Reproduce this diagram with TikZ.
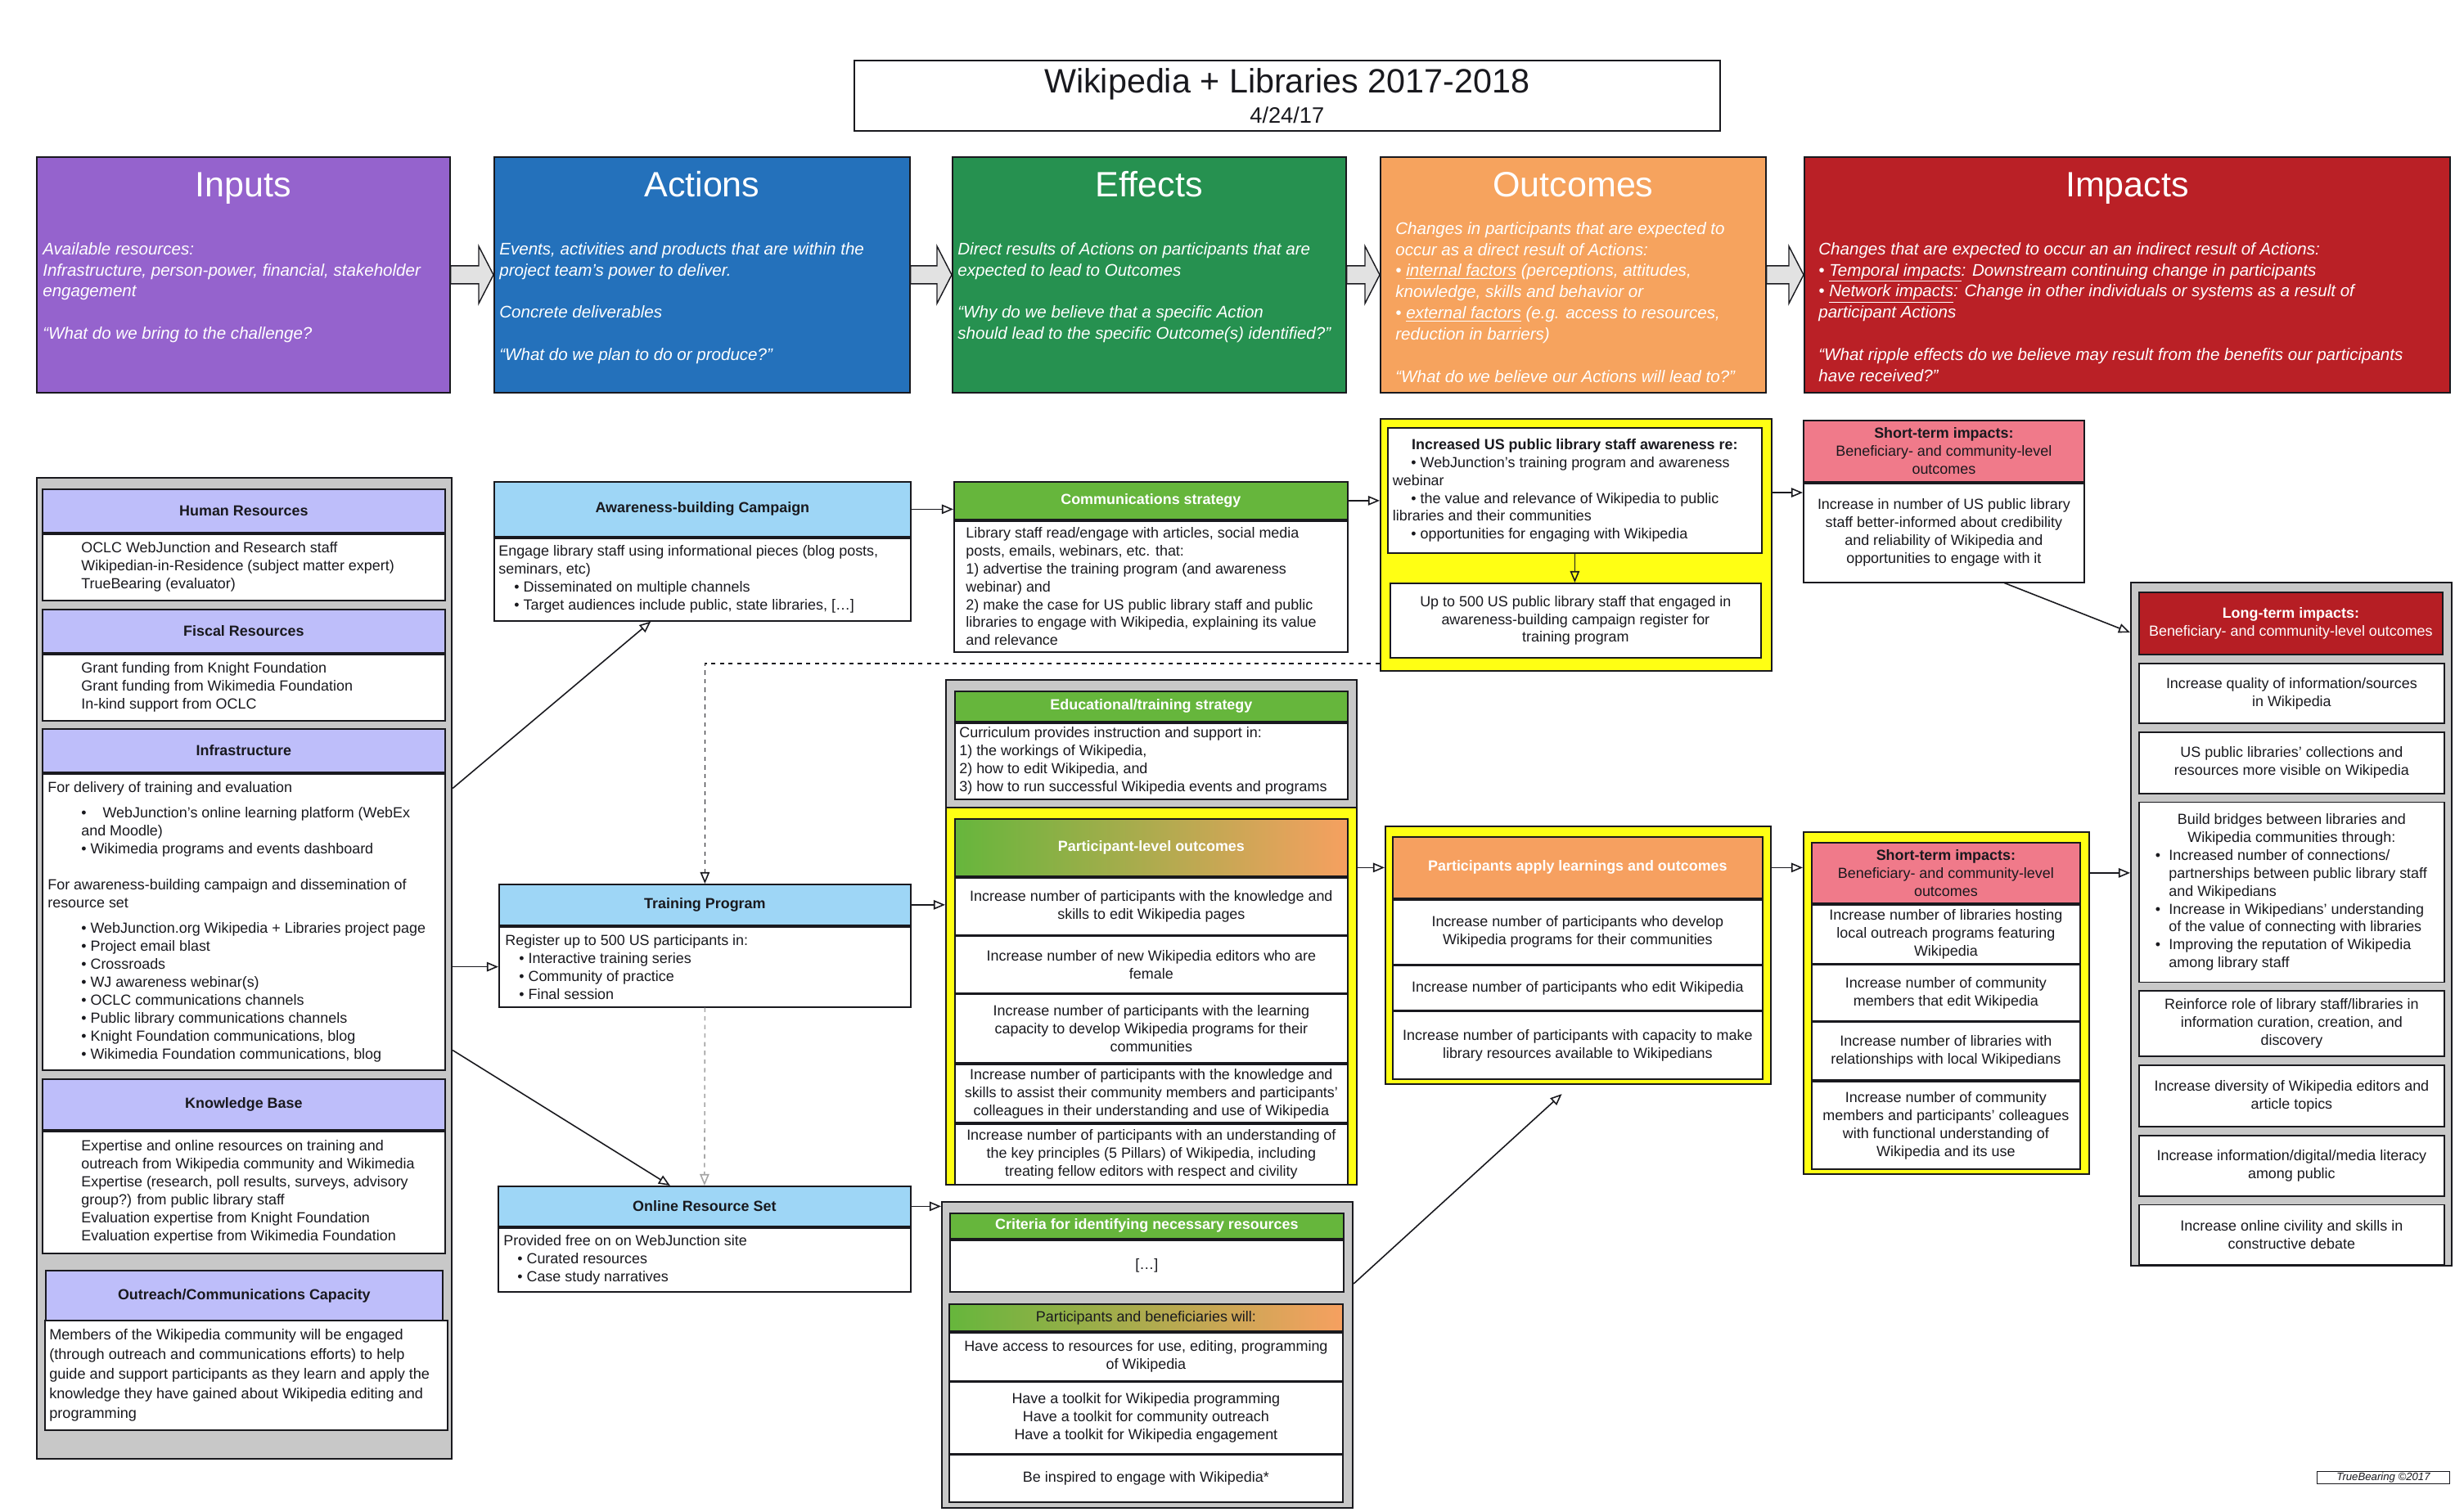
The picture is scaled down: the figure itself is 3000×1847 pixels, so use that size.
\documentclass[tikz,border=0pt]{standalone}
\usepackage{fontspec}
\setmainfont{Liberation Sans}
\usepackage{tikz}
\usetikzlibrary{arrows.meta, positioning, calc}
\definecolor{mydark}{RGB}{25,25,30}
\definecolor{mypurple}{RGB}{149,99,205}
\definecolor{myblue}{RGB}{36,113,187}
\definecolor{mygreen}{RGB}{38,145,80}
\definecolor{myorange}{RGB}{246,163,94}
\definecolor{myred}{RGB}{186,32,38}
\definecolor{mygray}{RGB}{200,200,200}
\definecolor{myyellow}{RGB}{255,255,20}
\definecolor{arrowgray}{RGB}{226,226,226}
\definecolor{hdrlav}{RGB}{190,190,250}
\definecolor{hdrblue}{RGB}{158,214,246}
\definecolor{hdrgreen}{RGB}{102,182,60}
\definecolor{hdrorange}{RGB}{246,160,96}
\definecolor{hdrpink}{RGB}{240,122,138}
\definecolor{hdrred}{RGB}{182,30,36}
\newcommand{\bodyfont}{\fontsize{10.2}{12.5}\selectfont}
\newcommand{\colfont}{\fontsize{11.7}{14.7}\selectfont\itshape}
\tikzset{
  wh/.style 2 args={minimum width=#1*0.02cm, minimum height=#2*0.02cm},
  titlebox/.style={rectangle, draw=mydark, line width=0.9pt, anchor=north west, inner sep=0pt},
  colbox/.style={rectangle, draw=mydark, line width=1pt, anchor=north west, inner sep=0pt},
  coltitle/.style={anchor=base, text=white, font=\fontsize{24.5}{28}\selectfont},
  coltext/.style={anchor=north west, align=left, inner sep=0pt, text=white, font=\colfont},
  panel/.style={rectangle, draw=mydark, fill=mygray, line width=1.2pt, anchor=north west, inner sep=0pt},
  yelpanel/.style={panel, fill=myyellow},
  hdr/.style={rectangle, draw=mydark, line width=1pt, anchor=north west, inner sep=0pt,
    align=center, font={\bodyfont\bfseries}},
  lavhdr/.style={hdr, fill=hdrlav},
  bluehdr/.style={hdr, fill=hdrblue},
  greenhdr/.style={hdr, fill=hdrgreen, text=white},
  gradhdr/.style={hdr, left color=hdrgreen, right color=hdrorange},
  orangehdr/.style={hdr, fill=hdrorange, text=white},
  pinkhdr/.style={hdr, fill=hdrpink, font=\bodyfont},
  redhdr/.style={hdr, fill=hdrred, text=white, font=\bodyfont},
  cell/.style={rectangle, draw=mydark, fill=white, line width=1pt, anchor=north west,
    inner sep=0pt, align=center},
  celltxt/.style={anchor=west, align=left, inner sep=0pt},
  arrow/.style={-{Triangle[open, length=8pt, width=6.5pt]}, line width=0.9pt, color=mydark},
  dasharrow/.style={arrow, dashed},
  grayarrow/.style={arrow, dashed, color=black!35},
  blockarrow/.style={draw=mydark, fill=arrowgray, line width=0.8pt}
}

\begin{document}
\begin{tikzpicture}[x=0.02cm, y=-0.02cm, font=\bodyfont, text=mydark]
  \fill[white] (0,0) rectangle (3000,1847);
  \useasboundingbox (0,0) rectangle (3000,1847);

  % Title
  \node[titlebox, wh={1058}{86}] (title) at (1043,73) {};
  \node[anchor=base, font=\fontsize{23.5}{28}\selectfont] (titletext) at ($(title.north)+(0,40)$) {Wikipedia + Libraries 2017-2018};
  \node[anchor=base, font=\fontsize{15.5}{18}\selectfont] (titledate) at ($(title.north)+(0,77)$) {4/24/17};

  % Header row - one coloured box per stage
  \node[colbox, fill=mypurple, wh={505}{288}] (inputs) at (44,191) {};
  \node[coltitle] (inputsttl) at ($(inputs.north)+(0,49)$) {Inputs};
  \node[coltext] (inputstxt) at ($(inputs.north west)+(8,105)$) {Available resources:\\Infrastructure, person-power, financial, stakeholder\\engagement\\[14.7pt]“What do we bring to the challenge?};

  \node[colbox, fill=myblue, wh={508}{288}] (actions) at (603,191) {};
  \node[coltitle] (actionsttl) at ($(actions.north)+(0,49)$) {Actions};
  \node[coltext] (actionstxt) at ($(actions.north west)+(7,105)$) {Events, activities and products that are within the\\project team’s power to deliver.\\[14.7pt]Concrete deliverables\\[14.7pt]“What do we plan to do or produce?”};

  \node[colbox, fill=mygreen, wh={481}{288}] (effects) at (1163,191) {};
  \node[coltitle] (effectsttl) at ($(effects.north)+(0,49)$) {Effects};
  \node[coltext] (effectstxt) at ($(effects.north west)+(7,105)$) {Direct results of Actions on participants that are\\expected to lead to Outcomes\\[14.7pt]“Why do we believe that a specific Action\\should lead to the specific Outcome(s) identified?”};

  \node[colbox, fill=myorange, wh={471}{288}] (outcomes) at (1686,191) {};
  \node[coltitle] (outcomesttl) at ($(outcomes.north)+(0,49)$) {Outcomes};
  \node[coltext] (outcomestxt) at ($(outcomes.north west)+(19,80)$) {Changes in participants that are expected to\\occur as a direct result of Actions:\\• \underline{internal factors} (perceptions, attitudes,\\knowledge, skills and behavior or\\• \underline{external factors} (e.g. access to resources,\\reduction in barriers)\\[14.7pt]“What do we believe our Actions will lead to?”};

  \node[colbox, fill=myred, wh={789}{288}] (impacts) at (2204,191) {};
  \node[coltitle] (impactsttl) at ($(impacts.north)+(0,49)$) {Impacts};
  \node[coltext] (impactstxt) at ($(impacts.north west)+(18,105)$) {Changes that are expected to occur an an indirect result of Actions:\\• \underline{Temporal impacts}: Downstream continuing change in participants\\• \underline{Network impacts}: Change in other individuals or systems as a result of\\participant Actions\\[14.7pt]“What ripple effects do we believe may result from the benefits our participants\\have received?”};

  % Fat arrows between the stages
  \draw[blockarrow] ($(inputs.east)+(0,-11)$) -- ($(actions.west)+(-18,-11)$) -- ++(0,-24) -- (actions.west) -- ($(actions.west)+(-18,35)$) -- ++(0,-24) -- ($(inputs.east)+(0,11)$) -- cycle;
  \draw[blockarrow] ($(actions.east)+(0,-11)$) -- ($(effects.west)+(-18,-11)$) -- ++(0,-24) -- (effects.west) -- ($(effects.west)+(-18,35)$) -- ++(0,-24) -- ($(actions.east)+(0,11)$) -- cycle;
  \draw[blockarrow] ($(effects.east)+(0,-11)$) -- ($(outcomes.west)+(-18,-11)$) -- ++(0,-24) -- (outcomes.west) -- ($(outcomes.west)+(-18,35)$) -- ++(0,-24) -- ($(effects.east)+(0,11)$) -- cycle;
  \draw[blockarrow] ($(outcomes.east)+(0,-11)$) -- ($(impacts.west)+(-18,-11)$) -- ++(0,-24) -- (impacts.west) -- ($(impacts.west)+(-18,35)$) -- ++(0,-24) -- ($(outcomes.east)+(0,11)$) -- cycle;

  % Inputs column
  \node[panel, wh={507}{1199}] (inpanel) at (44,583) {};
  \node[lavhdr, wh={492}{53}] (hrhdr) at (51,597) {Human Resources};
  \node[cell, wh={492}{81}] (hrbody) at (hrhdr.south west) {};
  \node[celltxt] (hrtxt) at ($(hrbody.west)+(48,0)$) {OCLC WebJunction and Research staff\\Wikipedian-in-Residence (subject matter expert)\\TrueBearing (evaluator)};

  \node[lavhdr, wh={492}{53}] (fischdr) at (51,744) {Fiscal Resources};
  \node[cell, wh={492}{81}] (fisbody) at (fischdr.south west) {};
  \node[celltxt] (fistxt) at ($(fisbody.west)+(48,0)$) {Grant funding from Knight Foundation\\Grant funding from Wikimedia Foundation\\In-kind support from OCLC};

  \node[lavhdr, wh={492}{53}] (infhdr) at (51,890) {Infrastructure};
  \node[cell, wh={492}{362}] (infbody) at (infhdr.south west) {};
  \node[celltxt] (inftxt) at ($(infbody.west)+(7,0)$) {For delivery of training and evaluation\\[5pt]
    \hspace*{0.82cm}•\hspace{0.4cm}WebJunction’s online learning platform (WebEx\\
    \hspace*{0.82cm}and Moodle)\\
    \hspace*{0.82cm}• Wikimedia programs and events dashboard\\[13pt]
    For awareness-building campaign and dissemination of\\
    resource set\\[5pt]
    \hspace*{0.82cm}• WebJunction.org Wikipedia + Libraries project page\\
    \hspace*{0.82cm}• Project email blast\\
    \hspace*{0.82cm}• Crossroads\\
    \hspace*{0.82cm}• WJ awareness webinar(s)\\
    \hspace*{0.82cm}• OCLC communications channels\\
    \hspace*{0.82cm}• Public library communications channels\\
    \hspace*{0.82cm}• Knight Foundation communications, blog\\
    \hspace*{0.82cm}• Wikimedia Foundation communications, blog};

  \node[lavhdr, wh={492}{62}] (kbhdr) at (51,1318) {Knowledge Base};
  \node[cell, wh={492}{149}] (kbbody) at (kbhdr.south west) {};
  \node[celltxt] (kbtxt) at ($(kbbody.west)+(48,0)$) {Expertise and online resources on training and\\outreach from Wikipedia community and Wikimedia\\Expertise (research, poll results, surveys, advisory\\group?) from public library staff\\Evaluation expertise from Knight Foundation\\Evaluation expertise from Wikimedia Foundation};

  \node[lavhdr, wh={485}{61}] (orhdr) at (55,1552) {Outreach/Communications Capacity};
  \node[cell, wh={492}{134}] (orbody) at (54,1613) {};
  \node[celltxt, font=\fontsize{10.3}{13.6}\selectfont] (ortxt) at ($(orbody.west)+(6,0)$) {Members of the Wikipedia community will be engaged\\(through outreach and communications efforts) to help\\guide and support participants as they learn and apply the\\knowledge they have gained about Wikipedia editing and\\programming};

  % Actions column
  \node[bluehdr, wh={509}{67}] (awhdr) at (603,588) {Awareness-building Campaign};
  \node[cell, wh={509}{101}] (awbody) at (awhdr.south west) {};
  \node[celltxt] (awtxt) at ($(awbody.west)+(6,0)$) {Engage library staff using informational pieces (blog posts,\\seminars, etc)\\\hspace*{0.38cm}• Disseminated on multiple channels\\\hspace*{0.38cm}• Target audiences include public, state libraries, […]};

  \node[bluehdr, wh={503}{50}] (tphdr) at (609,1080) {Training Program};
  \node[cell, wh={503}{98}] (tpbody) at (tphdr.south west) {};
  \node[celltxt] (tptxt) at ($(tpbody.west)+(8,0)$) {Register up to 500 US participants in:\\\hspace*{0.34cm}• Interactive training series\\\hspace*{0.34cm}• Community of practice\\\hspace*{0.34cm}• Final session};

  \node[bluehdr, wh={504}{49}] (orshdr) at (608,1449) {Online Resource Set};
  \node[cell, wh={504}{78}] (orsbody) at (orshdr.south west) {};
  \node[celltxt] (orstxt) at ($(orsbody.west)+(7,0)$) {Provided free on on WebJunction site\\\hspace*{0.34cm}• Curated resources\\\hspace*{0.34cm}• Case study narratives};

  % Effects column
  \node[greenhdr, wh={481}{46}] (commhdr) at (1165,588) {Communications strategy};
  \node[cell, wh={481}{160}] (commbody) at (commhdr.south west) {};
  \node[celltxt] (commtxt) at ($(commbody.west)+(15,0)$) {Library staff read/engage with articles, social media\\posts, emails, webinars, etc. that:\\1) advertise the training program (and awareness\\webinar) and\\2) make the case for US public library staff and public\\libraries to engage with Wikipedia, explaining its value\\and relevance};

  \node[panel, wh={502}{156}] (edupanel) at (1155,830) {};
  \node[greenhdr, wh={480}{37}] (eduhdr) at (1166,844) {Educational/training strategy};
  \node[cell, wh={480}{93}] (edubody) at (eduhdr.south west) {};
  \node[celltxt] (edutxt) at ($(edubody.west)+(6,0)$) {Curriculum provides instruction and support in:\\1) the workings of Wikipedia,\\2) how to edit Wikipedia, and\\3) how to run successful Wikipedia events and programs};

  \node[yelpanel, wh={502}{461}] (poyel) at (1155,986) {};
  \node[gradhdr, text=white, wh={480}{70}] (pohdr) at (1166,1000) {Participant-level outcomes};
  \node[cell, wh={480}{70}] (po1) at (pohdr.south west) {Increase number of participants with the knowledge and\\skills to edit Wikipedia pages};
  \node[cell, wh={480}{69}] (po2) at (po1.south west) {Increase number of new Wikipedia editors who are\\female};
  \node[cell, wh={480}{84}] (po3) at (po2.south west) {Increase number of participants with the learning\\capacity to develop Wikipedia programs for their\\communities};
  \node[cell, wh={480}{71}] (po4) at (po3.south west) {Increase number of participants with the knowledge and\\skills to assist their community members and participants'\\colleagues in their understanding and use of Wikipedia};
  \node[cell, wh={480}{74}] (po5) at (po4.south west) {Increase number of participants with an understanding of\\the key principles (5 Pillars) of Wikipedia, including\\treating fellow editors with respect and civility};

  \node[panel, wh={502}{374}] (crpanel) at (1150,1468) {};
  \node[greenhdr, wh={481}{31}] (crhdr) at (1160,1482) {Criteria for identifying necessary resources};
  \node[cell, wh={481}{63}] (crbody) at (crhdr.south west) {[…]};
  \node[gradhdr, font=\bodyfont, wh={481}{33}] (pbhdr) at (1159,1593) {Participants and beneficiaries will:};
  \node[cell, wh={481}{59}] (pb1) at (pbhdr.south west) {Have access to resources for use, editing, programming\\of Wikipedia};
  \node[cell, wh={481}{87}] (pb2) at (pb1.south west) {Have a toolkit for Wikipedia programming\\Have a toolkit for community outreach\\Have a toolkit for Wikipedia engagement};
  \node[cell, wh={481}{58}] (pb3) at (pb2.south west) {Be inspired to engage with Wikipedia*};

  % Outcomes column
  \node[yelpanel, wh={478}{308}] (awyel) at (1686,511) {};
  \node[cell, align=left, wh={457}{153}] (awboxa) at (1695,522) {\makebox[8.9cm]{\textbf{Increased US public library staff awareness re:}}\\
    \hspace*{0.45cm}• WebJunction’s training program and awareness\\
    webinar\\
    \hspace*{0.45cm}• the value and relevance of Wikipedia to public\\
    libraries and their communities\\
    \hspace*{0.45cm}• opportunities for engaging with Wikipedia};
  \node[cell, wh={453}{91}] (awboxb) at (1698,712) {Up to 500 US public library staff that engaged in\\awareness-building campaign register for\\training program};

  \node[yelpanel, wh={471}{315}] (apyel) at (1692,1009) {};
  \node[orangehdr, wh={452}{75}] (aphdr) at (1701,1022) {Participants apply learnings and outcomes};
  \node[cell, wh={452}{79}] (ap1) at (aphdr.south west) {Increase number of participants who develop\\Wikipedia programs for their communities};
  \node[cell, wh={452}{54}] (ap2) at (ap1.south west) {Increase number of participants who edit Wikipedia};
  \node[cell, wh={452}{83}] (ap3) at (ap2.south west) {Increase number of participants with capacity to make\\library resources available to Wikipedians};

  % Impacts column - short term
  \node[pinkhdr, wh={343}{75}] (st1hdr) at (2203,513) {\textbf{Short-term impacts:}\\Beneficiary- and community-level\\outcomes};
  \node[cell, wh={343}{121}] (st1body) at (st1hdr.south west) {Increase in number of US public library\\staff better-informed about credibility\\and reliability of Wikipedia and\\opportunities to engage with it};

  \node[yelpanel, wh={349}{418}] (st2yel) at (2203,1016) {};
  \node[pinkhdr, wh={328}{74}] (st2hdr) at (2213,1029) {\textbf{Short-term impacts:}\\Beneficiary- and community-level\\outcomes};
  \node[cell, wh={328}{72}] (st2a) at (st2hdr.south west) {Increase number of libraries hosting\\local outreach programs featuring\\Wikipedia};
  \node[cell, wh={328}{68}] (st2b) at (st2a.south west) {Increase number of community\\members that edit Wikipedia};
  \node[cell, wh={328}{71}] (st2c) at (st2b.south west) {Increase number of libraries with\\relationships with local Wikipedians};
  \node[cell, wh={328}{107}] (st2d) at (st2c.south west) {Increase number of community\\members and participants’ colleagues\\with functional understanding of\\Wikipedia and its use};

  % Impacts column - long term
  \node[panel, wh={392}{835}] (ltpanel) at (2603,711) {};
  \node[redhdr, wh={371}{76}] (lthdr) at (2613,723) {\textbf{Long-term impacts:}\\Beneficiary- and community-level outcomes};
  \node[cell, wh={373}{73}] (lt1) at (2613,810) {Increase quality of information/sources\\in Wikipedia};
  \node[cell, wh={373}{75}, below=0.18cm of lt1] (lt2) {US public libraries’ collections and\\resources more visible on Wikipedia};
  \node[cell, align=left, wh={373}{220}, below=0.18cm of lt2] (lt3) {\makebox[7.2cm]{Build bridges between libraries and}\\
    \makebox[7.2cm]{Wikipedia communities through:}\\
    \hspace*{0.27cm}\makebox[0.33cm][l]{•}Increased number of connections/\\
    \hspace*{0.6cm}partnerships between public library staff\\
    \hspace*{0.6cm}and Wikipedians\\
    \hspace*{0.27cm}\makebox[0.33cm][l]{•}Increase in Wikipedians’ understanding\\
    \hspace*{0.6cm}of the value of connecting with libraries\\
    \hspace*{0.27cm}\makebox[0.33cm][l]{•}Improving the reputation of Wikipedia\\
    \hspace*{0.6cm}among library staff};
  \node[cell, wh={373}{80}, below=0.18cm of lt3] (lt4) {Reinforce role of library staff/libraries in\\information curation, creation, and\\discovery};
  \node[cell, wh={373}{75}, below=0.18cm of lt4] (lt5) {Increase diversity of Wikipedia editors and\\article topics};
  \node[cell, wh={373}{74}, below=0.18cm of lt5] (lt6) {Increase information/digital/media literacy\\among public};
  \node[cell, wh={373}{73}, below=0.18cm of lt6] (lt7) {Increase online civility and skills in\\constructive debate};

  % Footnote
  \node[cell, wh={162}{15}, line width=0.6pt, font=\fontsize{7.5}{8}\selectfont\itshape] (tbnote) at (2831,1798) {TrueBearing ©2017};

  % Connectors
  \draw[arrow] ($(inpanel.east)+(0,-220)$) -- ($(awbody.south)+(-63,0)$);
  \draw[arrow] (inpanel.east |- tpbody.west) -- (tpbody.west);
  \draw[arrow] ($(inpanel.east)+(0,100)$) -- ($(orshdr.north)+(-42,0)$);
  \draw[dasharrow] ($(awyel.south west)+(0,-10)$) -| (tphdr.north);
  \draw[grayarrow] (tpbody.south) -- (orshdr.north);
  \draw[arrow] (awhdr.east) -- (awhdr.east -| commhdr.west);
  \draw[arrow] (tphdr.east) -- (tphdr.east -| poyel.west);
  \draw[arrow] (orshdr.east) -- (orshdr.east -| crpanel.west);
  \draw[arrow] (commhdr.east) -- (commhdr.east -| awyel.west);
  \draw[arrow] (awboxa.south) -- (awboxa.south |- awboxb.north);
  \coordinate (awout) at ($(awyel.east)+(0,-64)$);
  \draw[arrow] (awout) -- (awout -| st1body.west);
  \draw[arrow] (poyel.east |- aphdr.west) -- (apyel.west |- aphdr.west);
  \draw[arrow] (apyel.east |- aphdr.east) -- (st2yel.west |- aphdr.east);
  \coordinate (apin) at ($(apyel.south)+(-20,11)$);
  \draw[arrow] ($(crpanel.east)+(0,-87)$) -- (apin);
  \draw[arrow] ($(st1body.south)+(74,0)$) -- ($(ltpanel.north west)+(0,62)$);
  \draw[arrow] (st2hdr.east -| st2yel.east) -- (st2hdr.east -| ltpanel.west);
\end{tikzpicture}
\end{document}
